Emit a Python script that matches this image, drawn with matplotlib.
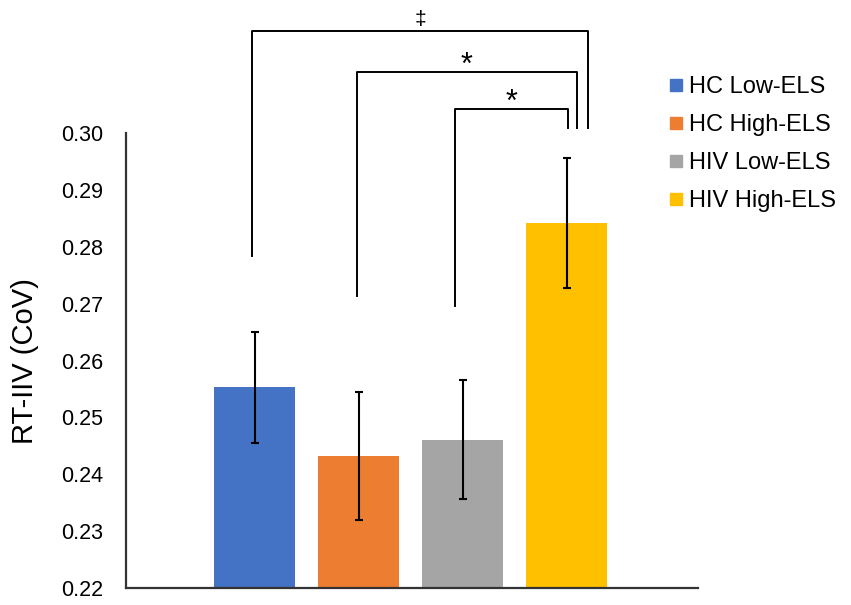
import matplotlib
matplotlib.use("Agg")
import matplotlib.pyplot as plt
from matplotlib.lines import Line2D
import numpy as np

plt.rcParams['font.family'] = ['Liberation Sans', 'DejaVu Sans']

# group means and error bars (RT-IIV, CoV)
groups = ["HC Low-ELS", "HC High-ELS", "HIV Low-ELS", "HIV High-ELS"]
means = [0.2553, 0.2432, 0.2461, 0.2842]
errors = [0.0098, 0.0113, 0.0105, 0.0115]
colors = ["#4472C4", "#ED7D31", "#A5A5A5", "#FFC000"]

yticks = [0.22, 0.23, 0.24, 0.25, 0.26, 0.27, 0.28, 0.29, 0.30]

# significance brackets: (left bar, right bar), label, bracket height, left foot
bracket_pairs = [(0, 3), (1, 3), (2, 3)]
bracket_labels = ["\u2021", "*", "*"]
bracket_tops = [0.3179, 0.3108, 0.3043]
bracket_left_feet = [0.2784, 0.2713, 0.2696]
bracket_right_foot = 0.3009

fig = plt.figure(figsize=(8.51, 6.05), dpi=100)
ax = fig.add_axes([0.148, 0.028, 0.672, 0.752])

x = np.arange(len(groups))
ax.bar(x, np.array(means) - 0.22, bottom=0.22, width=0.78, color=colors)
ax.errorbar(x, means, yerr=errors, fmt="none", ecolor="black",
            elinewidth=1.5, capsize=3, capthick=1.5)

ax.set_ylim(0.22, 0.30)
ax.set_xlim(-1.236, 4.26)
ax.set_yticks(yticks)
ax.set_yticklabels([f"{t:.2f}" for t in yticks], fontsize=15.5)
ax.tick_params(axis="y", length=0, pad=16.5)
ax.set_xticks([])
ax.set_ylabel("RT-IIV (CoV)", fontsize=21, labelpad=16)

for s in ["top", "right"]:
    ax.spines[s].set_visible(False)
for s in ["left", "bottom"]:
    ax.spines[s].set_color("#333333")
    ax.spines[s].set_linewidth(1.6)

right_offsets = [0.2, 0.1, 0.01]
left_offsets = [-0.02, -0.02, -0.07]
label_sizes = [15, 22, 22]
label_gaps = [0.0011, -0.0004, -0.0004]
for (a, b), lab, top, foot, ro, lo, fs, gap in zip(bracket_pairs, bracket_labels, bracket_tops,
                                                   bracket_left_feet, right_offsets, left_offsets,
                                                   label_sizes, label_gaps):
    xl = a + lo
    xr = b + ro
    ax.plot([xl, xl, xr, xr], [foot, top, top, bracket_right_foot],
            color="black", lw=1.4, clip_on=False)
    ax.text((xl + xr) / 2, top + gap, lab, ha="center", va="baseline",
            fontsize=fs, clip_on=False)

handles = [Line2D([0], [0], marker="s", linestyle="none", markersize=8,
                  markerfacecolor=c, markeredgecolor=c) for c in colors]
fig.legend(handles, groups, loc="upper left", bbox_to_anchor=(0.775, 0.89),
           frameon=False, fontsize=17, handlelength=0.6, handletextpad=0.25,
           labelspacing=0.68, borderaxespad=0)

fig.savefig("out.png", dpi=100)
